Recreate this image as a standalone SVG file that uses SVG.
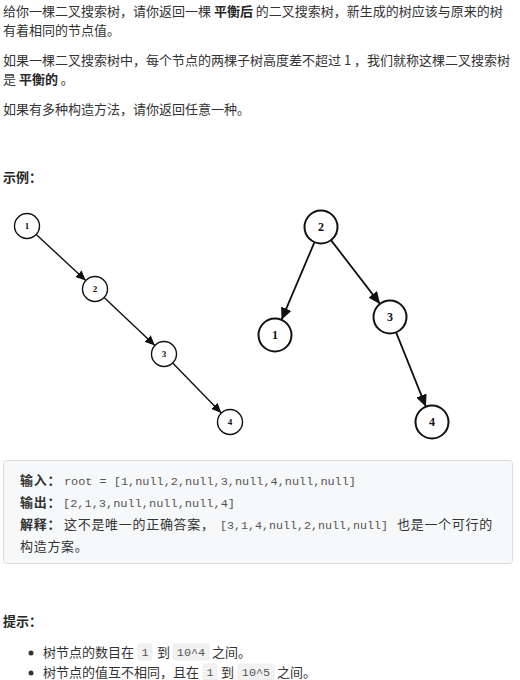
<svg xmlns="http://www.w3.org/2000/svg" width="520" height="680" viewBox="0 0 520 680">
<style>
.t{font-family:"Noto Sans CJK SC","Noto Sans",sans-serif;font-size:13px;fill:#333}
.b{font-weight:bold;fill:#262626}
.m{font-family:"Liberation Mono","DejaVu Sans Mono",monospace;font-size:11.8px;fill:#555}
.bx{font-family:"Noto Sans CJK SC","Noto Sans",sans-serif;font-size:13px;fill:#333;letter-spacing:0.7px}
.n1{fill:#fff;stroke:#111;stroke-width:1.4}
.n2{fill:#fff;stroke:#111;stroke-width:2}
.l1{font-family:"Liberation Serif",serif;font-weight:bold;font-size:9px;fill:#111;text-anchor:middle}
.l2{font-family:"Liberation Serif",serif;font-weight:bold;font-size:12px;fill:#111;text-anchor:middle}
.e1{stroke:#111;stroke-width:1.4;fill:none}
.e2{stroke:#111;stroke-width:1.8;fill:none}
.code{fill:#f2f2f2;stroke:#e8e8e8;stroke-width:0.6}
</style>
<defs>
<marker id="a1" markerUnits="userSpaceOnUse" markerWidth="10" markerHeight="9" refX="10" refY="4.5" orient="auto"><path d="M0,0 L10,4.5 L0,9 z" fill="#111"/></marker>
<marker id="a2" markerUnits="userSpaceOnUse" markerWidth="12" markerHeight="11" refX="12" refY="5.5" orient="auto"><path d="M0,0 L12,5.5 L0,11 z" fill="#111"/></marker>
</defs>
<rect width="520" height="680" fill="#fff"/>
<g id="intro">
<text class="t" x="3" y="16">给你一棵二叉搜索树，请你返回一棵 <tspan class="b">平衡后</tspan> 的二叉搜索树，新生成的树应该与原来的树</text>
<text class="t" x="3" y="35">有着相同的节点值。</text>
<text class="t" x="3" y="65">如果一棵二叉搜索树中，每个节点的两棵子树高度差不超过 1 ，我们就称这棵二叉搜索树</text>
<text class="t" x="3" y="84">是 <tspan class="b">平衡的</tspan> 。</text>
<text class="t" x="3" y="114">如果有多种构造方法，请你返回任意一种。</text>
<text class="t b" x="3" y="182">示例：</text>
</g>
<g id="edges">
<line class="e1" x1="36.2" y1="234.5" x2="85.8" y2="280.5" marker-end="url(#a1)"/>
<line class="e1" x1="104.1" y1="297.6" x2="154.9" y2="345.4" marker-end="url(#a1)"/>
<line class="e1" x1="172.7" y1="363" x2="221.3" y2="413" marker-end="url(#a1)"/>
<line class="e2" x1="314.5" y1="242.2" x2="281.5" y2="319.8" marker-end="url(#a2)"/>
<line class="e2" x1="331" y1="240.1" x2="380" y2="303.9" marker-end="url(#a2)"/>
<line class="e2" x1="396.1" y1="332.3" x2="425.9" y2="406.7" marker-end="url(#a2)"/>
</g>
<g id="L1"><circle class="n1" cx="27" cy="226" r="12.5"/><text class="l1" x="27" y="229">1</text></g>
<g id="L2"><circle class="n1" cx="95" cy="289" r="12.5"/><text class="l1" x="95" y="292">2</text></g>
<g id="L3"><circle class="n1" cx="164" cy="354" r="12.5"/><text class="l1" x="164" y="357">3</text></g>
<g id="L4"><circle class="n1" cx="230" cy="422" r="12.5"/><text class="l1" x="230" y="425">4</text></g>
<g id="R2"><circle class="n2" cx="321" cy="227" r="16.5"/><text class="l2" x="321" y="231">2</text></g>
<g id="R1"><circle class="n2" cx="275" cy="335" r="16.5"/><text class="l2" x="275" y="339">1</text></g>
<g id="R3"><circle class="n2" cx="390" cy="317" r="16.5"/><text class="l2" x="390" y="321">3</text></g>
<g id="R4"><circle class="n2" cx="432" cy="422" r="16.5"/><text class="l2" x="432" y="426">4</text></g>
<g id="example">
<rect x="3.5" y="460.5" width="509" height="103" rx="3" fill="#f7f8fa" stroke="#dcdcdc"/>
<text class="bx b" x="20" y="485">输入：</text>
<text class="m" x="64" y="485" textLength="292" lengthAdjust="spacingAndGlyphs">root = [1,null,2,null,3,null,4,null,null]</text>
<text class="bx b" x="20" y="507">输出：</text>
<text class="m" x="63" y="507" textLength="172" lengthAdjust="spacingAndGlyphs">[2,1,3,null,null,null,4]</text>
<text class="bx b" x="20" y="529">解释：</text>
<text class="bx" x="64" y="529">这不是唯一的正确答案，</text>
<text class="m" x="220" y="529" textLength="168" lengthAdjust="spacingAndGlyphs">[3,1,4,null,2,null,null]</text>
<text class="bx" x="397" y="529">也是一个可行的</text>
<text class="bx" x="20" y="551">构造方案。</text>
</g>
<g id="hints">
<text class="t b" x="3" y="626">提示：</text>
<circle cx="31" cy="653" r="2.5" fill="#333"/>
<rect class="code" x="138" y="644" width="14" height="16" rx="2"/>
<rect class="code" x="173" y="644" width="36" height="16" rx="2"/>
<text class="t" x="43" y="657">树节点的数目在</text>
<text class="m" x="145" y="656" text-anchor="middle">1</text>
<text class="t" x="157" y="657">到</text>
<text class="m" x="191" y="656" text-anchor="middle">10^4</text>
<text class="t" x="212" y="657">之间。</text>
<circle cx="31" cy="673" r="2.5" fill="#333"/>
<rect class="code" x="203" y="664" width="14" height="16" rx="2"/>
<rect class="code" x="238" y="664" width="36" height="16" rx="2"/>
<text class="t" x="43" y="677">树节点的值互不相同，且在</text>
<text class="m" x="210" y="676" text-anchor="middle">1</text>
<text class="t" x="221" y="677">到</text>
<text class="m" x="256" y="676" text-anchor="middle">10^5</text>
<text class="t" x="277" y="677">之间。</text>
</g>
</svg>
